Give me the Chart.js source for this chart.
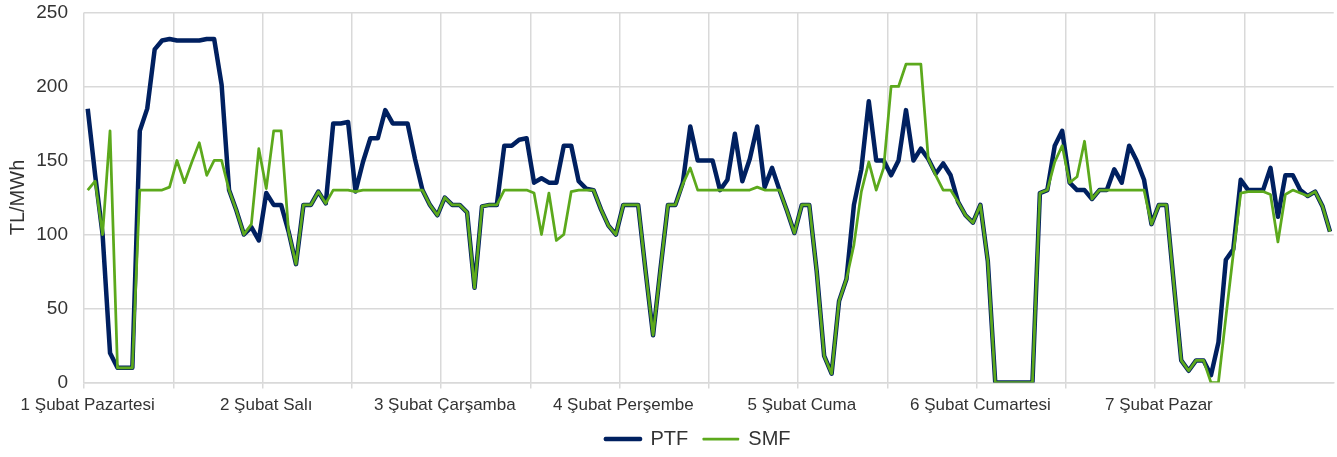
<!DOCTYPE html>
<html lang="tr">
<head>
<meta charset="utf-8">
<title>PTF / SMF</title>
<script src="https://cdn.jsdelivr.net/npm/chart.js@4"></script>
<style>
  html, body { margin: 0; padding: 0; background: #fff; }
  #wrap { width: 1337px; height: 457px; position: relative; }
</style>
</head>
<body>
<div id="wrap"><canvas id="chart"></canvas></div>
<script>
// Gün etiketleri (her gün 24 saat)
const days = ['1 Şubat Pazartesi', '2 Şubat Salı', '3 Şubat Çarşamba', '4 Şubat Perşembe',
              '5 Şubat Cuma', '6 Şubat Cumartesi', '7 Şubat Pazar'];

// Saatlik PTF (TL/MWh)
const ptf = [
  185, 140, 100, 20, 10, 10, 10, 170, 185, 225, 231, 232, 231, 231, 231, 231, 232, 232, 201, 130, 116, 100, 105, 96,
  128, 120, 120, 102, 80, 120, 120, 129, 121, 175, 175, 176, 129, 149, 165, 165, 184, 175, 175, 175, 151, 130, 120, 113,
  125, 120, 120, 115, 64, 119, 120, 120, 160, 160, 164, 165, 135, 138, 135, 135, 160, 160, 136, 131, 130, 117, 106, 100,
  120, 120, 120, 75, 32, 77, 120, 120, 135, 173, 150, 150, 150, 130, 137, 168, 136, 151, 173, 132, 145, 130, 116, 101,
  120, 120, 75, 18, 6, 55, 70, 120, 144, 190, 150, 150, 140, 150, 184, 150, 158, 151, 141, 148, 140, 122, 113, 108,
  120, 82, 0, 0, 0, 0, 0, 0, 128, 130, 160, 170, 135, 130, 130, 124, 130, 130, 144, 135, 160, 150, 137, 107,
  120, 120, 67, 15, 8, 15, 15, 5, 27, 83, 90, 137, 130, 130, 130, 145, 112, 140, 140, 130, 126, 129, 119, 102
];

// Saatlik SMF (TL/MWh)
const smf = [
  130, 136, 100, 170, 10, 10, 10, 130, 130, 130, 130, 132, 150, 135, 149, 162, 140, 150, 150, 130, 116, 100, 107, 158,
  131, 170, 170, 102, 80, 120, 120, 129, 121, 130, 130, 130, 129, 130, 130, 130, 130, 130, 130, 130, 130, 130, 120, 113,
  125, 120, 120, 115, 64, 119, 120, 120, 130, 130, 130, 130, 128, 100, 128, 96, 100, 129, 130, 130, 130, 117, 106, 100,
  120, 120, 120, 75, 32, 77, 120, 120, 134, 145, 130, 130, 130, 130, 130, 130, 130, 130, 132, 130, 130, 130, 116, 101,
  120, 120, 75, 18, 6, 55, 70, 93, 129, 149, 130, 145, 200, 200, 215, 215, 215, 151, 140, 130, 130, 122, 113, 108,
  120, 82, 0, 0, 0, 0, 0, 0, 128, 130, 149, 160, 135, 139, 163, 124, 130, 130, 130, 130, 130, 130, 130, 107,
  120, 120, 67, 15, 8, 15, 15, 0, 0, 44, 87, 128, 129, 129, 129, 127, 95, 127, 130, 128, 126, 129, 119, 102
];

const HOURS = 24;
const labels = [];
days.forEach(d => {
  for (let h = 0; h < HOURS; h++) labels.push(h === 0 ? d : '');
});

const navy = '#002060';
const green = '#5CA91C';
const gridColor = '#d9d9d9';
const textColor = '#333333';
const fontFamily = "'Liberation Sans', Arial, sans-serif";

// Excel'deki gibi göstergeyi biraz sağa/aşağı kaydır
const shiftLegend = {
  id: 'shiftLegend',
  afterLayout(chart) {
    const lg = chart.legend;
    if (!lg) return;
    lg.left += 30; lg.right += 30;
    lg.top += 2; lg.bottom += 2;
  }
};

new Chart(document.getElementById('chart'), {
  type: 'line',
  data: {
    labels,
    datasets: [
      {
        label: 'SMF',
        data: smf,
        borderColor: green,
        backgroundColor: green,
        borderWidth: 2.75,
        pointRadius: 0,
        tension: 0,
        borderJoinStyle: 'round'
      },
      {
        label: 'PTF',
        data: ptf,
        borderColor: navy,
        backgroundColor: navy,
        borderWidth: 4.5,
        pointRadius: 0,
        tension: 0,
        borderJoinStyle: 'round'
      }
    ]
  },
  options: {
    responsive: true,
    maintainAspectRatio: false,
    animation: false,
    layout: { padding: { top: 0, right: 1, left: 0, bottom: 0 } },
    scales: {
      x: {
        offset: true,
        grid: {
          offset: true,
          color: ctx => ctx.index % 12 === 0 ? gridColor : 'rgba(0,0,0,0)',
          lineWidth: 1.5,
          tickLength: 6
        },
        border: { color: gridColor, width: 1.5 },
        ticks: {
          autoSkip: false,
          maxRotation: 0,
          padding: 7,
          color: textColor,
          font: { family: fontFamily, size: 17 },
          callback: (v, i) => labels[i]
        }
      },
      y: {
        min: 0,
        max: 250,
        afterFit: scale => { scale.width = 84; },
        grid: { color: gridColor, lineWidth: 1.5, drawTicks: true, tickLength: 15, tickColor: 'rgba(0,0,0,0)' },
        border: { display: false },
        ticks: {
          stepSize: 50,
          padding: 1,
          color: textColor,
          font: { family: fontFamily, size: 19 }
        },
        title: {
          display: true,
          text: 'TL/MWh',
          color: textColor,
          padding: { top: 6, bottom: 0 },
          font: { family: fontFamily, size: 20 }
        }
      }
    },
    plugins: {
      tooltip: { enabled: false },
      legend: {
        position: 'bottom',
        reverse: true,
        labels: {
          boxWidth: 35,
          boxHeight: 1,
          padding: 4,
          color: textColor,
          font: { family: fontFamily, size: 20 },
          generateLabels: chart => Chart.defaults.plugins.legend.labels.generateLabels(chart).map(l => {
            const ds = chart.data.datasets[l.datasetIndex];
            // PTF'den sonra biraz boşluk
            const text = ds.label === 'PTF' ? l.text + '  ' : l.text;
            return { ...l, text, fillStyle: ds.borderColor, lineWidth: ds.borderWidth - 1 };
          })
        }
      }
    }
  },
  plugins: [shiftLegend]
});
</script>
</body>
</html>
